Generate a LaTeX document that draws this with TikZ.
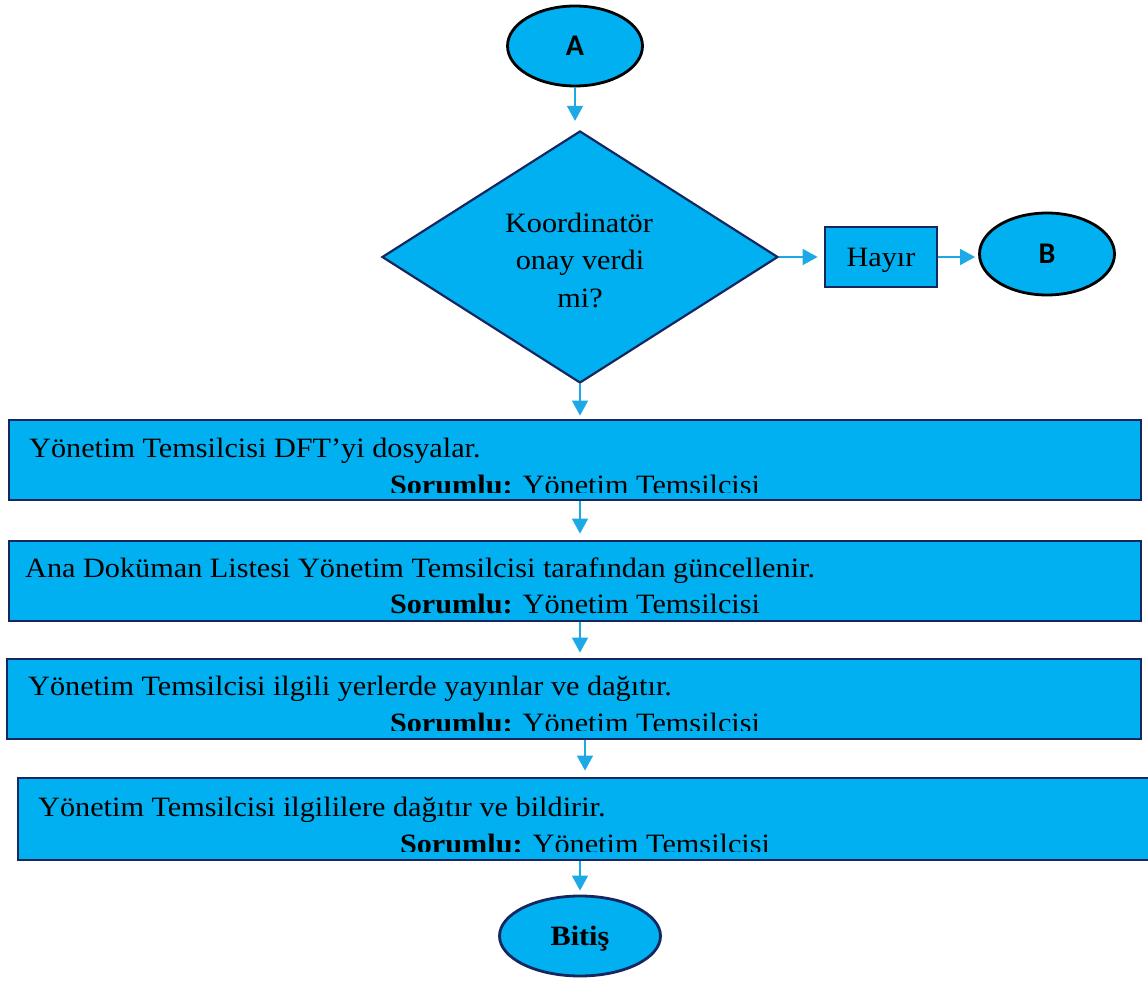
\documentclass[tikz,border=0pt]{standalone}
\usepackage{fontspec}
\setmainfont{Liberation Serif}[FakeStretch=1.08]
\newfontfamily\labelfont{Carlito}
\usepackage{xcolor}
\usepackage{tikz}
\usetikzlibrary{arrows.meta,shapes.geometric}

\definecolor{boxfill}{HTML}{00B0F0}
\definecolor{boxline}{HTML}{14285F}
\definecolor{linkblue}{HTML}{1DA9E6}

\begin{document}
\begin{tikzpicture}[x=1pt,y=-1pt,
  every node/.style={font=\fontsize{28}{36}\selectfont, text=black},
  process/.style={rectangle, draw=boxline, line width=2.8pt, fill=boxfill, inner sep=0pt},
  terminal/.style={ellipse, draw=black, line width=2.8pt, fill=boxfill, inner sep=0pt},
  decision/.style={diamond, draw=boxline, line width=2.2pt, fill=boxfill, inner sep=0pt},
  link/.style={draw=linkblue, line width=1.6pt, -{Triangle[length=15pt,width=16pt]}},
  firstline/.style={anchor=base west, inner sep=0pt},
  respline/.style={anchor=base, inner sep=0pt}]
\useasboundingbox (0,0) rectangle (1148,981);

% START AND DECISION
  \node[terminal, minimum width=135, minimum height=80] (A) at (575,46) {\labelfont\bfseries\fontsize{30}{36}\selectfont A};
  \node[decision, minimum width=396, minimum height=252] (dia) at (580,257) {};
  \node[respline] (q1) at (579,233) {Koordinatör};
  \node[respline] (q2) at (580,270) {onay verdi};
  \node[respline] (q3) at (580,308) {mi?};

% NO BRANCH
  \node[process, minimum width=112, minimum height=60, text depth=0pt] (hay) at (881,257) {Hayır};
  \node[terminal, minimum width=135, minimum height=82] (B) at (1047,254) {\labelfont\bfseries\fontsize{30}{36}\selectfont B};

% STEP 1
  \node[process, minimum width=1132, minimum height=80] (s1) at (575,460) {};
  \begin{scope}
    \clip (0,419) rectangle (1148,492);
    \node[firstline] (t1) at (29,457) {Yönetim Temsilcisi DFT’yi dosyalar.};
    \node[respline] (r1) at (575,494) {\textbf{Sorumlu:} Yönetim Temsilcisi};
  \end{scope}

% STEP 2
  \node[process, minimum width=1132, minimum height=80] (s2) at (575,581) {};
  \node[firstline] (t2) at (25,577) {Ana Doküman Listesi Yönetim Temsilcisi tarafından güncellenir.};
  \node[respline] (r2) at (575,613) {\textbf{Sorumlu:} Yönetim Temsilcisi};

% STEP 3
  \node[process, minimum width=1134, minimum height=80] (s3) at (574,699) {};
  \begin{scope}
    \clip (0,658) rectangle (1148,730);
    \node[firstline] (t3) at (28,695) {Yönetim Temsilcisi ilgili yerlerde yayınlar ve dağıtır.};
    \node[respline] (r3) at (575,732) {\textbf{Sorumlu:} Yönetim Temsilcisi};
  \end{scope}

% STEP 4
  \node[process, minimum width=1134, minimum height=82] (s4) at (585,819) {};
  \begin{scope}
    \clip (0,777) rectangle (1148,851);
    \node[firstline] (t4) at (38,816) {Yönetim Temsilcisi ilgililere dağıtır ve bildirir.};
    \node[respline] (r4) at (585,853) {\textbf{Sorumlu:} Yönetim Temsilcisi};
  \end{scope}

% END
  \node[terminal, draw=boxline, minimum width=161, minimum height=80, text depth=0pt] (end) at (580,936) {\textbf{Bitiş}};

% ARROWS
  \draw[link, shorten >=9pt] (A.south) -- (A.south |- dia.north);
  \draw[link, shorten >=6pt] (dia.east) -- (hay.west);
  \draw[link, shorten >=3pt] (hay.east) -- (hay.east -| B.west);
  \draw[link, shorten >=3pt] (dia.south) -- (dia.south |- s1.north);
  \draw[link, shorten >=6pt] (dia.south |- s1.south) -- (dia.south |- s2.north);
  \draw[link, shorten >=5pt] (dia.south |- s2.south) -- (dia.south |- s3.north);
  \draw[link, shorten >=6pt] (s4.north |- s3.south) -- (s4.north);
  \draw[link, shorten >=4pt] (end.north |- s4.south) -- (end.north);

\end{tikzpicture}
\end{document}
